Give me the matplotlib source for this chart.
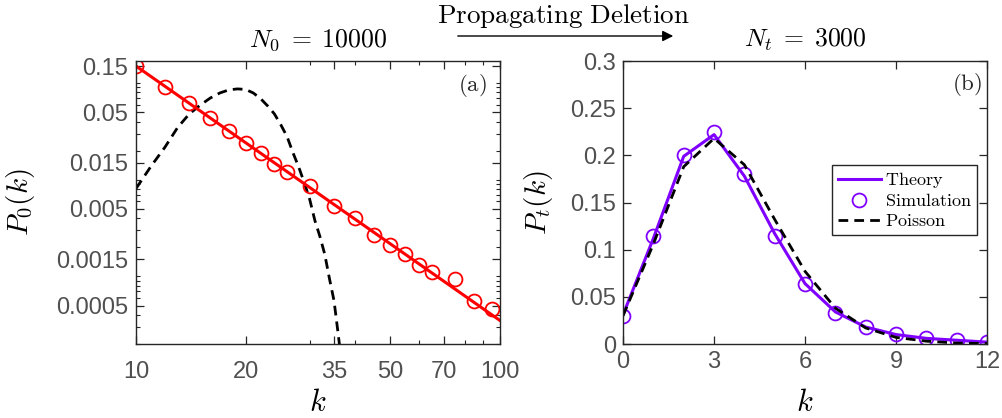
import matplotlib
matplotlib.use("Agg")
import matplotlib.pyplot as plt
from matplotlib.ticker import FixedLocator, FixedFormatter, LogLocator, NullFormatter

plt.rcParams['font.family'] = ['Liberation Sans', 'DejaVu Sans']
plt.rcParams['mathtext.fontset'] = 'cm'

# panel (a): initial network, log-log
k0_sim = [10, 12, 14, 16, 18, 20, 22, 24, 26, 30, 35, 40, 45, 50, 55, 60, 65, 75, 85, 95]
p0_sim = [0.150, 0.0916, 0.0616, 0.0437, 0.0318, 0.0241, 0.0187, 0.0147, 0.0121, 0.0087,
          0.0053, 0.0040, 0.0027, 0.0021, 0.0017, 0.0013, 0.0011, 0.00093, 0.00056, 0.00046]
k0_theory = [10, 100]
p0_theory = [0.15, 0.00035]
k0_pois = list(range(10, 38))
p0_pois = [0.0081, 0.0138, 0.0216, 0.0345, 0.0478, 0.059, 0.070, 0.079, 0.085, 0.087,
           0.086, 0.079, 0.069, 0.058, 0.048, 0.037, 0.028, 0.019, 0.0135, 0.0093,
           0.0063, 0.0038, 0.0026, 0.0017, 0.00095, 0.00056, 0.00024, 0.0001]
x0_ticks = [10, 20, 35, 50, 70, 100]
x0_minor = [30, 40, 60, 80, 90]
y0_ticks = [0.0005, 0.0015, 0.005, 0.015, 0.05, 0.15]
y0_labels = ['0.0005', '0.0015', '0.005', '0.015', '0.05', '0.15']

# panel (b): after deletion
kt = list(range(13))
pt_sim = [0.030, 0.1145, 0.2004, 0.2245, 0.180, 0.1145, 0.0633, 0.0332, 0.0177, 0.0103,
          0.0067, 0.0039, 0.0025]
pt_theory = [0.031, 0.112, 0.199, 0.222, 0.178, 0.117, 0.064, 0.034, 0.018, 0.010,
             0.006, 0.004, 0.002]
pt_pois = [0.030, 0.106, 0.188, 0.218, 0.190, 0.132, 0.077, 0.038, 0.017, 0.007,
           0.003, 0.001, 0.0005]

axcol = '#262626'
labcol = '#505050'
purple = '#7F00FF'

fig = plt.figure(figsize=(10.02, 4.18), dpi=100)
ax1 = fig.add_axes([0.1357, 0.177, 0.3633, 0.677])
ax2 = fig.add_axes([0.6218, 0.177, 0.3633, 0.677])

# --- left panel
ax1.plot(k0_pois, p0_pois, color='black', lw=2.0, dashes=(3.5, 2.2))
ax1.plot(k0_theory, p0_theory, color='red', lw=2.2)
ax1.plot(k0_sim, p0_sim, 'o', mfc='none', mec='red', ms=10, mew=1.3)
ax1.set_xscale('log')
ax1.set_yscale('log')
ax1.set_xlim(10, 100)
ax1.set_ylim(0.0002, 0.169)
ax1.xaxis.set_major_locator(FixedLocator(x0_ticks))
ax1.xaxis.set_major_formatter(FixedFormatter([str(v) for v in x0_ticks]))
ax1.xaxis.set_minor_locator(FixedLocator(x0_minor))
ax1.xaxis.set_minor_formatter(NullFormatter())
ax1.yaxis.set_major_locator(FixedLocator(y0_ticks))
ax1.yaxis.set_major_formatter(FixedFormatter(y0_labels))
ax1.yaxis.set_minor_locator(LogLocator(base=10, subs=range(1, 10), numticks=20))
ax1.yaxis.set_minor_formatter(NullFormatter())
ax1.tick_params(axis='x', which='major', pad=12)
ax1.tick_params(axis='y', which='major', pad=5.5)
ax1.set_xlabel(r'$k$', fontsize=22)
ax1.set_ylabel(r'$P_0(k)$', fontsize=21)
ax1.xaxis.set_label_coords(0.5, -0.155)
ax1.yaxis.set_label_coords(-0.272, 0.5)
ax1.text(0.964, 0.912, r'$\mathrm{(a)}$', transform=ax1.transAxes, ha='right', va='center',
         fontsize=16.5, color=axcol)
ax1.text(0.5, 1.074, r'$N_0\;=\;10000$', transform=ax1.transAxes, ha='center', va='center',
         fontsize=18.5)

# --- right panel
ax2.plot(kt, pt_theory, color=purple, lw=2.2, label=r'$\mathrm{Theory}$')
ax2.plot(kt, pt_sim, 'o', mfc='none', mec=purple, ms=10, mew=1.3, label=r'$\mathrm{Simulation}$')
ax2.plot(kt, pt_pois, color='black', lw=2.0, dashes=(3.5, 2.2), label=r'$\mathrm{Poisson}$')
ax2.set_xlim(0, 12)
ax2.set_ylim(0, 0.3)
ax2.set_xticks([0, 3, 6, 9, 12])
ax2.set_yticks([0, 0.05, 0.1, 0.15, 0.2, 0.25, 0.3])
ax2.set_yticklabels(['0', '0.05', '0.1', '0.15', '0.2', '0.25', '0.3'])
ax2.tick_params(axis='x', which='major', pad=5)
ax2.tick_params(axis='y', which='major', pad=5)
ax2.set_xlabel(r'$k$', fontsize=22)
ax2.set_ylabel(r'$P_t(k)$', fontsize=21)
ax2.xaxis.set_label_coords(0.5, -0.155)
ax2.yaxis.set_label_coords(-0.187, 0.5)
ax2.text(0.986, 0.917, r'$\mathrm{(b)}$', transform=ax2.transAxes, ha='right', va='center',
         fontsize=16.5, color=axcol)
ax2.text(0.5, 1.074, r'$N_t\;=\;3000$', transform=ax2.transAxes, ha='center', va='center',
         fontsize=18.5)
leg = ax2.legend(loc='upper right', bbox_to_anchor=(0.9725, 0.6325), borderaxespad=0,
                 fontsize=13, fancybox=False, framealpha=1, edgecolor=axcol,
                 handlelength=2.4, handletextpad=0.2, labelspacing=0.15, borderpad=0.3)
leg.get_frame().set_linewidth(1.0)

for ax in (ax1, ax2):
    for s in ax.spines.values():
        s.set_color(axcol)
        s.set_linewidth(1.0)
    ax.tick_params(which='both', direction='in', top=True, right=True, color=axcol,
                   labelcolor=labcol, labelsize=17)
    ax.tick_params(which='major', length=6, width=0.9)
    ax.tick_params(which='minor', length=3, width=0.8)

# header with arrow between panels
fig.text(563 / 1002, 1 - 16 / 418, r'$\mathrm{Propagating\ Deletion}$', ha='center', va='center',
         fontsize=19.5)
fig.add_artist(matplotlib.patches.FancyArrowPatch(
    (455 / 1002, 1 - 36 / 418), (676 / 1002, 1 - 36 / 418), transform=fig.transFigure,
    arrowstyle='-|>', mutation_scale=16, color='black', lw=1.0))

fig.savefig('out.png', dpi=100)
